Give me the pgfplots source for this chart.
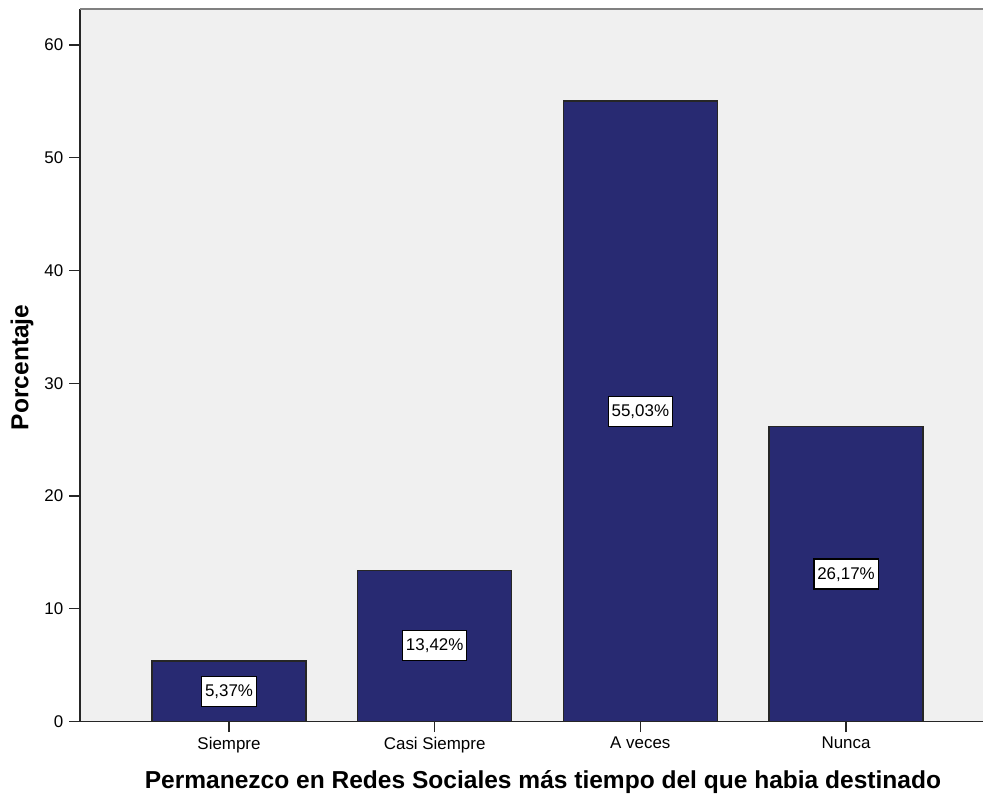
\documentclass[border=0pt]{standalone}
\usepackage{pgfplots}
\pgfplotsset{compat=1.18}
\usepackage{fontspec}
\setmainfont{Liberation Sans}
\definecolor{barblue}{RGB}{40,42,114}
\definecolor{bgray}{RGB}{240,240,240}
\begin{document}
\begin{tikzpicture}
\begin{axis}[
  scale only axis,
  width=677.25pt, height=534.4pt,
  at={(0,0)}, anchor=south west,
  xmin=-0.7245, xmax=3.666,
  ymin=0, ymax=63.2,
  axis x line*=bottom, axis y line*=left,
  axis line style={black!85, line width=1pt},
  xtick={0,1,2,3},
  xticklabels={Siempre,Casi Siempre,A veces,Nunca},
  ytick={0,10,20,30,40,50,60},
  tick align=outside,
  major tick length=8pt,
  tick style={black!85, line width=1pt},
  axis background/.style={fill=bgray},
  ticklabel style={font=\fontsize{12.7}{14}\selectfont},
  yticklabel style={xshift=-1pt},
  /pgf/number format/assume math mode=true,
  xlabel={Permanezco en Redes Sociales más tiempo del que habia destinado},
  xlabel style={font=\bfseries\fontsize{18.4}{20}\selectfont, at={(axis description cs:0.5127,0)}, anchor=center, yshift=-45.4pt},
  ylabel={Porcentaje},
  ylabel style={font=\bfseries\fontsize{18.4}{20}\selectfont, at={(axis description cs:0,0.497)}, anchor=center, yshift=43.5pt},
  clip=false,
]
\addplot[ybar, bar width=115.5pt, fill=barblue, draw=black!85, line width=1pt]
  coordinates {(0,5.37) (1,13.42) (2,55.03) (3,26.17)};
\addplot[draw=none, nodes near coords, point meta=explicit symbolic,
  nodes near coords style={anchor=center, fill=white, draw=black, line width=0.8pt,
    font=\fontsize{12.7}{14}\selectfont, inner xsep=2.5pt, inner ysep=5pt,
    text height=10pt, text depth=2.5pt}]
  coordinates {(0,2.685)[5,37\%] (1,6.71)[13,42\%] (2,27.515)[55,03\%] (3,13.085)[26,17\%]};
\draw[black!50, line width=2.2pt] (rel axis cs:0,1) -- (rel axis cs:1,1);
\end{axis}
\pgfresetboundingbox
\path ([xshift=-60pt,yshift=-55.9pt]current axis.south west) rectangle ([yshift=6.75pt]current axis.north east);
\end{tikzpicture}
\end{document}
